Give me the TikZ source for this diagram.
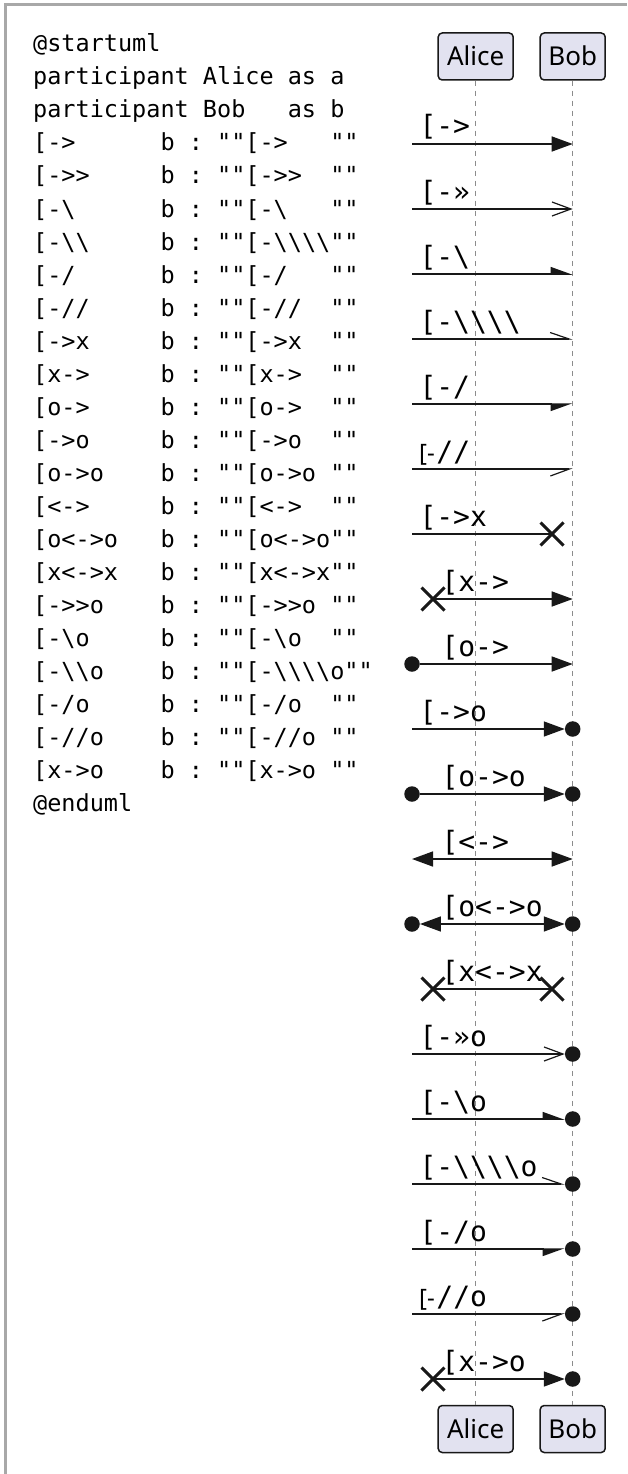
\documentclass[tikz,border=0pt]{standalone}
\usepackage{fontspec}
\setmonofont{DejaVu Sans Mono}
\newfontfamily\partfont{Noto Sans}
\usetikzlibrary{arrows.meta,shapes.misc,calc}
\definecolor{framegray}{HTML}{A8A8A8}
\definecolor{boxfill}{HTML}{E2E2F0}
\definecolor{ink}{HTML}{181818}
\definecolor{lifegray}{HTML}{8C8C8C}
\newcommand{\bsl}{\textbackslash}
\tikzset{
  codeline/.style={anchor=base west, inner sep=0pt, font=\ttfamily\fontsize{23.5}{28}\selectfont},
  lbl/.style={anchor=base west, inner sep=0pt, font=\ttfamily\fontsize{28}{28}\selectfont},
  lblsans/.style={anchor=base west, inner sep=0pt, font=\partfont\fontsize{24}{24}\selectfont},
  part/.style={draw=ink, fill=boxfill, line width=1.5pt, rounded corners=4pt, minimum height=47pt,
    inner sep=0pt, font=\partfont\fontsize{26}{26}\selectfont, text height=18.6pt, text depth=0pt},
  life/.style={draw=lifegray, line width=1.2pt, dash pattern=on 5pt off 5pt},
  msg/.style={draw=ink, line width=1.5pt},
  full/.style={-{Triangle[length=21pt,width=15pt]}},
  fullboth/.style={{Triangle[length=21pt,width=15pt]}-{Triangle[length=21pt,width=15pt]}},
  openhead/.style={-{Straight Barb[length=19pt,width=14pt,line width=1.2pt]}},
  halfup/.style={-{Triangle[length=20pt,width=14pt,left]}},
  halfdown/.style={-{Triangle[length=20pt,width=14pt,right]}},
  openup/.style={-{Straight Barb[length=19pt,width=13pt,line width=1.2pt,left]}},
  opendown/.style={-{Straight Barb[length=19pt,width=14pt,line width=1.2pt,right]}},
  xmark/.style={cross out, draw=ink, line width=3pt, minimum size=20pt, inner sep=0pt},
  dot/.style={circle, fill=ink, minimum size=15.5pt, inner sep=0pt},
}
\begin{document}
\begin{tikzpicture}[x=1pt,y=-1pt]
\useasboundingbox (0,0) rectangle (627,1474);
\fill[white] (0,0) rectangle (627,1474);
% frame
\draw[framegray, line width=3pt] (5.5,1474) -- (5.5,4.5) -- (627,4.5);

% code listing
\node[codeline] (c0)  at (33,52)  {@startuml};
\node[codeline] (c1)  at (33,85)  {participant~Alice~as~a};
\node[codeline] (c2)  at (33,118) {participant~Bob~~~as~b};
\node[codeline] (c3)  at (33,151) {[->~~~~~~b~:~""[->~~~""};
\node[codeline] (c4)  at (33,184) {[->>~~~~~b~:~""[->>~~""};
\node[codeline] (c5)  at (33,217) {[-\bsl~~~~~~b~:~""[-\bsl~~~""};
\node[codeline] (c6)  at (33,250) {[-\bsl\bsl~~~~~b~:~""[-\bsl\bsl\bsl\bsl""};
\node[codeline] (c7)  at (33,283) {[-/~~~~~~b~:~""[-/~~~""};
\node[codeline] (c8)  at (33,316) {[-//~~~~~b~:~""[-//~~""};
\node[codeline] (c9)  at (33,349) {[->x~~~~~b~:~""[->x~~""};
\node[codeline] (c10) at (33,382) {[x->~~~~~b~:~""[x->~~""};
\node[codeline] (c11) at (33,415) {[o->~~~~~b~:~""[o->~~""};
\node[codeline] (c12) at (33,448) {[->o~~~~~b~:~""[->o~~""};
\node[codeline] (c13) at (33,481) {[o->o~~~~b~:~""[o->o~""};
\node[codeline] (c14) at (33,514) {[<->~~~~~b~:~""[<->~~""};
\node[codeline] (c15) at (33,547) {[o<->o~~~b~:~""[o<->o""};
\node[codeline] (c16) at (33,580) {[x<->x~~~b~:~""[x<->x""};
\node[codeline] (c17) at (33,613) {[->>o~~~~b~:~""[->>o~""};
\node[codeline] (c18) at (33,646) {[-\bsl o~~~~~b~:~""[-\bsl o~~""};
\node[codeline] (c19) at (33,679) {[-\bsl\bsl o~~~~b~:~""[-\bsl\bsl\bsl\bsl o""};
\node[codeline] (c20) at (33,712) {[-/o~~~~~b~:~""[-/o~~""};
\node[codeline] (c21) at (33,745) {[-//o~~~~b~:~""[-//o~""};
\node[codeline] (c22) at (33,778) {[x->o~~~~b~:~""[x->o~""};
\node[codeline] (c23) at (33,811) {@enduml};

% participants
\node[part, minimum width=75pt] (aT) at (475.7,56.5) {Alice};
\node[part, minimum width=65pt] (bT) at (572.7,56.5) {Bob};
\node[part, minimum width=75pt] (aB) at (475.7,1429) {Alice};
\node[part, minimum width=65pt] (bB) at (572.7,1429) {Bob};
\draw[life] (aT) -- (aB);
\draw[life] (bT) -- (bB);

% row 0  [->
\coordinate (s0) at (412,144);
\draw[msg,full] (s0) -- (bT |- s0);
\node[lbl] (l0) at (419.3,136) {[->};
% row 1  [->>
\coordinate (s1) at (412,209);
\draw[msg,openhead] (s1) -- (bT |- s1);
\node[lbl] (l1) at (419.3,201) {[-»};
% row 2  [-\
\coordinate (s2) at (412,274);
\draw[msg,halfup] (s2) -- (bT |- s2);
\node[lbl] (l2) at (419.3,266) {[-\bsl};
% row 3  [-\\
\coordinate (s3) at (412,339);
\draw[msg,openup] (s3) -- (bT |- s3);
\node[lbl] (l3) at (419.3,331) {[-\bsl\bsl\bsl\bsl};
% row 4  [-/
\coordinate (s4) at (412,404);
\draw[msg,halfdown] (s4) -- (bT |- s4);
\node[lbl] (l4) at (419.3,396) {[-/};
% row 5  [-//
\coordinate (s5) at (412,469);
\draw[msg,opendown] (s5) -- (bT |- s5);
\node[lblsans] (l5a) at (419,461) {[-};
\node[lbl] (l5b) at (436.2,461) {//};
% row 6  [->x
\coordinate (s6) at (412,534);
\node[xmark] (x6) at (552,534) {};
\draw[msg] (s6) -- (x6.center);
\node[lbl] (l6) at (419.3,526) {[->x};
% row 7  [x->
\node[xmark] (x7) at (433,599) {};
\draw[msg,full] (x7.center) -- (bT |- x7);
\node[lbl] (l7) at (441.3,591) {[x->};
% row 8  [o->
\node[dot] (o8) at (412,664) {};
\draw[msg,full] (o8) -- (bT |- o8);
\node[lbl] (l8) at (441.3,656) {[o->};
% row 9  [->o
\coordinate (s9) at (412,729);
\node[dot] (d9) at (bT |- s9) {};
\draw[msg,full] (s9) -- (d9);
\node[lbl] (l9) at (419.3,721) {[->o};
% row 10 [o->o
\node[dot] (o10) at (412,794) {};
\node[dot] (d10) at (bT |- o10) {};
\draw[msg,full] (o10) -- (d10);
\node[lbl] (l10) at (441.3,786) {[o->o};
% row 11 [<->
\coordinate (s11) at (412,859);
\draw[msg,fullboth] (s11) -- (bT |- s11);
\node[lbl] (l11) at (441.3,851) {[<->};
% row 12 [o<->o
\node[dot] (o12) at (412,924) {};
\node[dot] (d12) at (bT |- o12) {};
\draw[msg,fullboth] (o12) -- (d12);
\node[lbl] (l12) at (441.3,916) {[o<->o};
% row 13 [x<->x
\node[xmark] (x13a) at (433,989) {};
\node[xmark] (x13b) at (552,989) {};
\draw[msg] (x13a.center) -- (x13b.center);
\node[lbl] (l13) at (441.3,981) {[x<->x};
% row 14 [->>o
\coordinate (s14) at (412,1054);
\node[dot] (d14) at (bT |- s14) {};
\draw[msg,openhead] (s14) -- (d14);
\node[lbl] (l14) at (419.3,1046) {[-»o};
% row 15 [-\o
\coordinate (s15) at (412,1119);
\node[dot] (d15) at (bT |- s15) {};
\draw[msg,halfup] (s15) -- (d15);
\node[lbl] (l15) at (419.3,1111) {[-\bsl o};
% row 16 [-\\o
\coordinate (s16) at (412,1184);
\node[dot] (d16) at (bT |- s16) {};
\draw[msg,openup] (s16) -- (d16);
\node[lbl] (l16) at (419.3,1176) {[-\bsl\bsl\bsl\bsl o};
% row 17 [-/o
\coordinate (s17) at (412,1249);
\node[dot] (d17) at (bT |- s17) {};
\draw[msg,halfdown] (s17) -- (d17);
\node[lbl] (l17) at (419.3,1241) {[-/o};
% row 18 [-//o
\coordinate (s18) at (412,1314);
\node[dot] (d18) at (bT |- s18) {};
\draw[msg,opendown] (s18) -- (d18);
\node[lblsans] (l18a) at (419,1306) {[-};
\node[lbl] (l18b) at (436.2,1306) {//o};
% row 19 [x->o
\node[xmark] (x19) at (433,1379) {};
\node[dot] (d19) at (bT |- x19) {};
\draw[msg,full] (x19.center) -- (d19);
\node[lbl] (l19) at (441.3,1371) {[x->o};
\end{tikzpicture}
\end{document}
